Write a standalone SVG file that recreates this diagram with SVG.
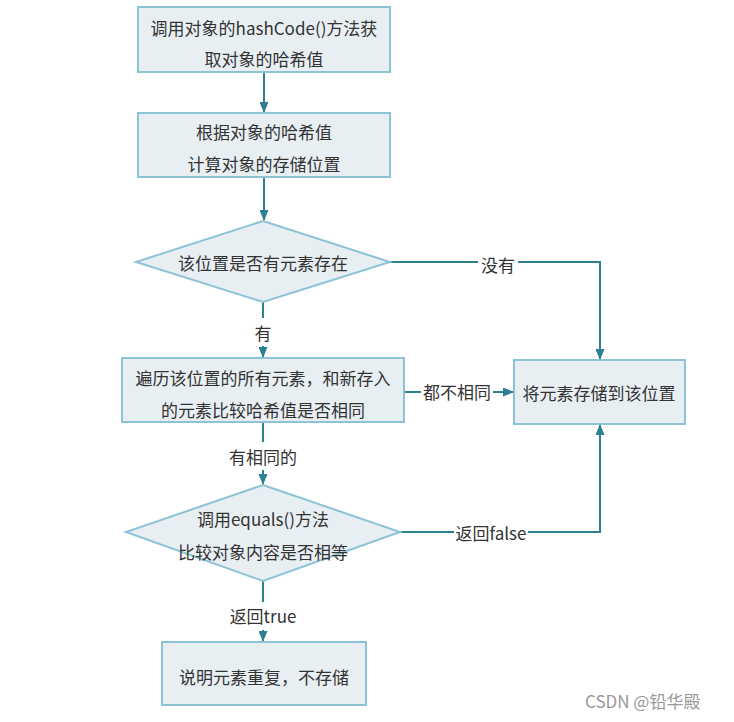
<svg xmlns="http://www.w3.org/2000/svg" width="734" height="722" viewBox="0 0 734 722">
<style>
.box{fill:#e8eff3;stroke:#8cc3d6;stroke-width:2}
.t{font-family:"Noto Sans CJK SC","Microsoft YaHei",sans-serif;font-size:17px;fill:#333;text-anchor:middle;dominant-baseline:central}
.c{fill:none;stroke:#2d7f92;stroke-width:2}
.lb{fill:#fff}
.wm{font-family:"Noto Sans CJK SC",sans-serif;font-size:17px;fill:#999}
</style>
<defs>
<marker id="ah" markerWidth="11" markerHeight="9" refX="10" refY="4.5" orient="auto" markerUnits="userSpaceOnUse">
<path d="M0,0 L11,4.5 L0,9 Z" fill="#2d7f92"/>
</marker>
</defs>
<rect width="734" height="722" fill="#fff"/>
<g id="connectors">
<path class="c" d="M264,72 V112" marker-end="url(#ah)"/>
<path class="c" d="M264,177 V220" marker-end="url(#ah)"/>
<path class="c" d="M390,262 H600 V359" marker-end="url(#ah)"/>
<path class="c" d="M263,302 V357" marker-end="url(#ah)"/>
<path class="c" d="M404,392 H513" marker-end="url(#ah)"/>
<path class="c" d="M263,422 V484" marker-end="url(#ah)"/>
<path class="c" d="M400,532 H600 V425" marker-end="url(#ah)"/>
<path class="c" d="M263,581 V641" marker-end="url(#ah)"/>
<rect class="lb" x="478" y="250" width="40" height="26"/>
<text class="t" x="498" y="264">没有</text>
<rect class="lb" x="253" y="318" width="20" height="28"/>
<text class="t" x="263" y="332">有</text>
<rect class="lb" x="421" y="379" width="72" height="26"/>
<text class="t" x="457" y="391">都不相同</text>
<rect class="lb" x="226" y="442" width="74" height="28"/>
<text class="t" x="263" y="456">有相同的</text>
<rect class="lb" x="454" y="519" width="74" height="26"/>
<text class="t" x="491" y="532">返回false</text>
<rect class="lb" x="226" y="602" width="74" height="28"/>
<text class="t" x="263" y="615">返回true</text>
</g>
<g id="n1">
<rect class="box" x="138" y="7" width="252" height="65"/>
<text class="t" x="264" y="27">调用对象的hashCode()方法获</text>
<text class="t" x="264" y="58">取对象的哈希值</text>
</g>
<g id="n2">
<rect class="box" x="138" y="113" width="252" height="64"/>
<text class="t" x="264" y="131">根据对象的哈希值</text>
<text class="t" x="264" y="163">计算对象的存储位置</text>
</g>
<g id="n3">
<polygon class="box" points="263,221 390,262 263,302 136,262"/>
<text class="t" x="263" y="262">该位置是否有元素存在</text>
</g>
<g id="n4">
<rect class="box" x="122" y="358" width="282" height="64"/>
<text class="t" x="263" y="377">遍历该位置的所有元素，和新存入</text>
<text class="t" x="263" y="409">的元素比较哈希值是否相同</text>
</g>
<g id="n5">
<rect class="box" x="514" y="360" width="171" height="64"/>
<text class="t" x="599" y="392">将元素存储到该位置</text>
</g>
<g id="n6">
<polygon class="box" points="263,485 400,532 263,581 126,532"/>
<text class="t" x="263" y="518">调用equals()方法</text>
<text class="t" x="263" y="551">比较对象内容是否相等</text>
</g>
<g id="n7">
<rect class="box" x="162" y="642" width="204" height="63"/>
<text class="t" x="264" y="676">说明元素重复，不存储</text>
</g>
<text class="wm" x="585" y="708">CSDN @铅华殿</text>
</svg>
